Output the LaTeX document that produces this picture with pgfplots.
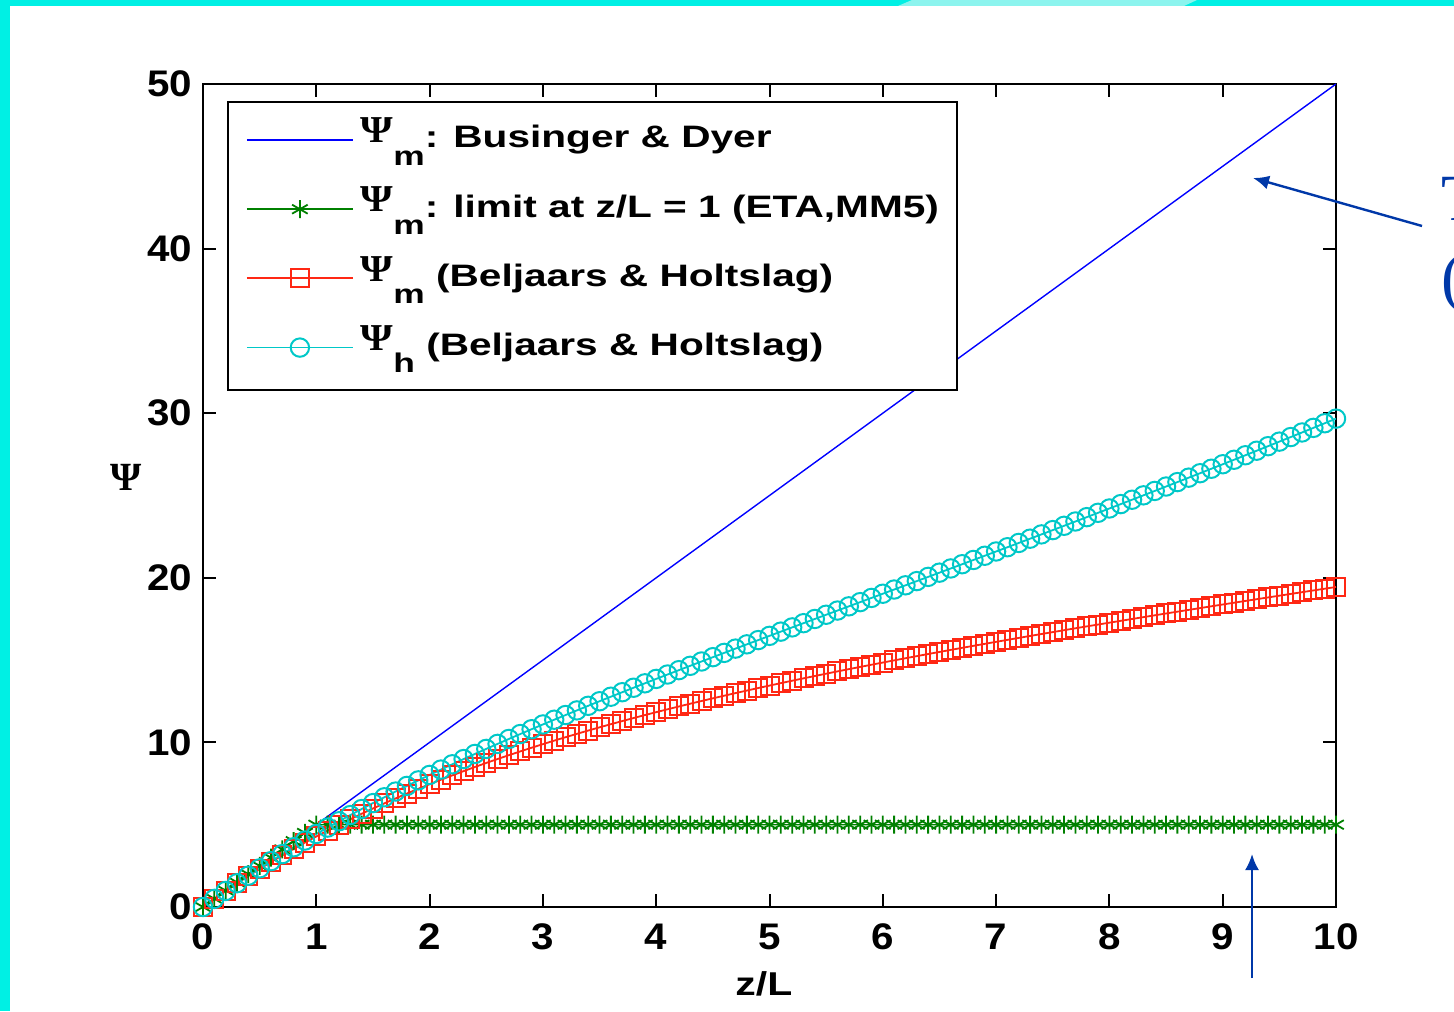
\documentclass[border=0pt]{standalone}
\usepackage{fontspec}
\usepackage{pgfplots}
\usepackage{pgfplotstable}
\pgfplotsset{compat=1.18}
\usetikzlibrary{arrows.meta}
\setmainfont{Liberation Sans}
\newfontfamily\tickfont{Liberation Sans}[FakeStretch=1.09]
\newfontfamily\legfont{Liberation Sans}[FakeStretch=1.31]
\newfontfamily\lblfont{Liberation Sans}[FakeStretch=1.24]
\newfontfamily\psifont{Liberation Serif}[FakeStretch=1.1]
\newfontfamily\seriffont{Liberation Serif}
\definecolor{bgcyan}{RGB}{0,240,228}
\definecolor{bglight}{RGB}{140,244,238}
\definecolor{mblue}{RGB}{0,0,255}
\definecolor{mgreen}{RGB}{0,128,0}
\definecolor{mred}{RGB}{255,40,20}
\definecolor{mcyan}{RGB}{0,200,200}
\definecolor{annblue}{RGB}{0,56,168}
\newcommand{\Ps}[1]{\raisebox{2.6pt}{\psifont\fontsize{19}{19}\selectfont Ψ}\raisebox{-8.65pt}{\fontsize{13.5}{13.5}\selectfont #1}}

\pgfplotstableread{
x g r c
0 0 0 0
0.1 0.5 0.492 0.494
0.2 1.0 0.969 0.975
0.3 1.5 1.430 1.444
0.4 2.0 1.877 1.902
0.5 2.5 2.310 2.349
0.6 3.0 2.729 2.786
0.7 3.5 3.136 3.212
0.8 4.0 3.530 3.629
0.9 4.5 3.913 4.037
1.0 5 4.284 4.436
1.1 5 4.644 4.826
1.2 5 4.994 5.209
1.3 5 5.333 5.584
1.4 5 5.663 5.951
1.5 5 5.984 6.312
1.6 5 6.295 6.666
1.7 5 6.598 7.014
1.8 5 6.893 7.356
1.9 5 7.180 7.693
2.0 5 7.459 8.024
2.1 5 7.731 8.349
2.2 5 7.996 8.670
2.3 5 8.254 8.987
2.4 5 8.506 9.299
2.5 5 8.752 9.606
2.6 5 8.991 9.910
2.7 5 9.225 10.210
2.8 5 9.453 10.507
2.9 5 9.676 10.800
3.0 5 9.894 11.091
3.1 5 10.108 11.378
3.2 5 10.316 11.662
3.3 5 10.520 11.944
3.4 5 10.720 12.224
3.5 5 10.915 12.501
3.6 5 11.107 12.776
3.7 5 11.295 13.049
3.8 5 11.479 13.321
3.9 5 11.660 13.590
4.0 5 11.837 13.858
4.1 5 12.011 14.124
4.2 5 12.182 14.389
4.3 5 12.350 14.653
4.4 5 12.515 14.916
4.5 5 12.677 15.177
4.6 5 12.837 15.438
4.7 5 12.995 15.698
4.8 5 13.149 15.957
4.9 5 13.302 16.215
5.0 5 13.452 16.473
5.1 5 13.601 16.730
5.2 5 13.747 16.987
5.3 5 13.891 17.243
5.4 5 14.033 17.499
5.5 5 14.174 17.755
5.6 5 14.313 18.010
5.7 5 14.450 18.266
5.8 5 14.585 18.521
5.9 5 14.719 18.777
6.0 5 14.852 19.032
6.1 5 14.983 19.288
6.2 5 15.113 19.543
6.3 5 15.241 19.799
6.4 5 15.369 20.055
6.5 5 15.495 20.312
6.6 5 15.620 20.568
6.7 5 15.744 20.825
6.8 5 15.867 21.083
6.9 5 15.988 21.340
7.0 5 16.109 21.599
7.1 5 16.229 21.857
7.2 5 16.348 22.117
7.3 5 16.467 22.376
7.4 5 16.584 22.637
7.5 5 16.701 22.898
7.6 5 16.817 23.159
7.7 5 16.932 23.421
7.8 5 17.047 23.684
7.9 5 17.160 23.948
8.0 5 17.274 24.212
8.1 5 17.386 24.477
8.2 5 17.498 24.743
8.3 5 17.610 25.009
8.4 5 17.721 25.277
8.5 5 17.832 25.545
8.6 5 17.942 25.814
8.7 5 18.051 26.084
8.8 5 18.160 26.354
8.9 5 18.269 26.626
9.0 5 18.378 26.898
9.1 5 18.486 27.171
9.2 5 18.593 27.445
9.3 5 18.700 27.720
9.4 5 18.807 27.996
9.5 5 18.914 28.273
9.6 5 19.020 28.550
9.7 5 19.126 28.829
9.8 5 19.232 29.108
9.9 5 19.337 29.389
10.0 5 19.442 29.670
}\psidata

\begin{document}
\begin{tikzpicture}
\path[use as bounding box] (0,0) rectangle (727pt,505.5pt);
\fill[white] (0,0) rectangle (727pt,505.5pt);
\fill[bgcyan] (0,0) rectangle (5pt,505.5pt);
\fill[bgcyan] (0,502.5pt) rectangle (727pt,505.5pt);
\fill[bglight] (449pt,502.5pt) -- (456pt,505.5pt) -- (598.5pt,505.5pt) -- (592pt,502.5pt) -- cycle;
\begin{axis}[
  at={(101.5pt,52pt)}, anchor=south west,
  scale only axis, width=566.5pt, height=411.5pt,
  xmin=0, xmax=10, ymin=0, ymax=50,
  xtick={0,1,...,10}, ytick={0,10,...,50},
  tick align=inside, major tick length=6.5pt,
  tick style={black, line width=1pt},
  axis line style={black, line width=1pt},
  /pgf/number format/assume math mode=true,
  ticklabel style={font=\tickfont\bfseries\fontsize{18.5}{18.5}\selectfont},
  xticklabel style={yshift=-5pt},
  yticklabel style={xshift=-2pt},
  xlabel={z/L},
  xlabel style={font=\lblfont\bfseries\fontsize{16.5}{16.5}\selectfont, at={(axis description cs:0.495,0)}, anchor=base, yshift=-44pt},
  ylabel={Ψ},
  ylabel style={font=\seriffont\bfseries\fontsize{20}{20}\selectfont, rotate=-90, at={(axis description cs:0,0.5225)}, anchor=center, xshift=-38.5pt},
  legend cell align=left,
  legend style={at={(axis description cs:0,1)}, anchor=north west, xshift=12pt, yshift=-8.5pt,
    draw=black, line width=1pt, fill=white, inner xsep=9pt, inner ysep=2.7pt,
    column sep=3.5pt, row sep=0pt,
    font=\legfont\bfseries\fontsize{15.5}{15.5}\selectfont,
    nodes={inner sep=0pt, text height=20.3pt, text depth=14.3pt}},
  legend image code/.code={\draw[mark repeat=2,mark phase=2,#1] plot coordinates {(0pt,1pt) (26.5pt,1pt) (53pt,1pt)};},
]
\addplot[mblue, line width=0.7pt, no markers] coordinates {(0,0) (10,50)};
\addlegendentry{\Ps{m}: Businger \& Dyer}
\addplot[mgreen, line width=0.7pt, mark=asterisk, mark size=4.5pt, mark options={line width=0.9pt}] table[x=x,y=g] {\psidata};
\addlegendentry{\Ps{m}: limit at z/L = 1 (ETA,MM5)}
\addplot[mred, line width=0.9pt, mark=square, mark size=4.5pt, mark options={line width=1pt}] table[x=x,y=r] {\psidata};
\addlegendentry{\Ps{m} (Beljaars \& Holtslag)}
\addplot[mcyan, line width=0.9pt, mark=o, mark size=4.6pt, mark options={line width=1pt}] table[x=x,y=c] {\psidata};
\addlegendentry{\Ps{h} (Beljaars \& Holtslag)}
\end{axis}
\draw[annblue, line width=1.2pt, -{Latex[length=8pt,width=7pt]}] (711pt,392.5pt) -- (626.5pt,416.5pt);
\draw[annblue, line width=1.2pt, -{Latex[length=8pt,width=7pt]}] (626pt,16.5pt) -- (626pt,78.5pt);
\node[annblue, anchor=base west, inner sep=0pt, font=\seriffont\fontsize{33}{33}\selectfont] at (720.5pt,395pt) {T};
\node[annblue, anchor=base west, inner sep=0pt, font=\seriffont\fontsize{33}{33}\selectfont] at (720.5pt,355.5pt) {(};
\end{tikzpicture}
\end{document}
